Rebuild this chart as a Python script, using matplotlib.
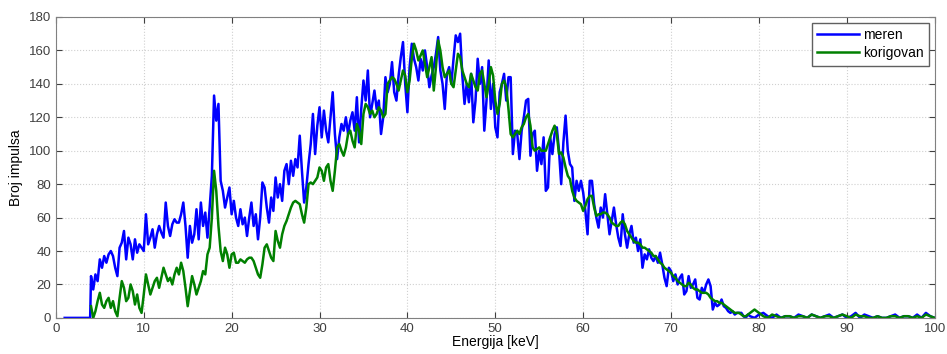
import matplotlib
matplotlib.use("Agg")
import matplotlib.pyplot as plt
import numpy as np

plt.rcParams['font.family'] = ['Liberation Sans', 'DejaVu Sans']

# energy grid: flat part, fine part (0.25 keV), tail (0.5 keV)
e_lead = [1.0, 3.9]
e_fine = np.arange(4, 79, 0.25)
e_tail = np.arange(79, 100.01, 0.5)

blue_lead = [0, 0]
blue_fine = [
    25, 17, 26, 22,  35, 30, 37, 33,  38, 40, 37, 30,  25, 42, 45, 52,
    35, 48, 44, 35,  47, 39, 44, 42,  40, 62, 44, 48,  53, 42, 50, 55,
    51, 48, 69, 55,  49, 56, 59, 57,  57, 62, 69, 55,  36, 55, 45, 50,
    65, 47, 69, 55,  63, 48, 66, 85,  133, 118, 128, 82,
    76, 66, 72, 78,  62, 70, 60, 55,  65, 56, 60, 49,  60, 69, 55, 62,
    47, 60, 81, 78,  66, 57, 72, 64,  84, 72, 80, 70,  88, 92, 80, 94,
    85, 95, 90, 109,  88, 69, 78, 92,  104, 122, 98, 115,
    126, 108, 124, 112,  105, 120, 135, 110,  95, 108, 116, 112,
    120, 110, 118, 123,  112, 132, 105, 125,  142, 130, 148, 120,
    128, 136, 125, 130,  110, 120, 144, 135,  140, 153, 135, 130,
    145, 156, 165, 140,  123, 150, 164, 155,  150, 142, 155, 148,
    160, 150, 138, 145,  150, 158, 168, 148,  140, 125, 146, 150,
    140, 155, 169, 165,  170, 145, 128, 140,  129, 146, 117, 130,
    155, 140, 150, 112,  130, 154, 125, 140,  114, 108, 135, 140,
    146, 130, 144, 144,  98, 112, 110, 95,  112, 120, 130, 131,
    97, 110, 112, 88,  100, 92, 108, 76,  78, 108, 98, 110,
    114, 100, 80, 105,  121, 100, 92, 90,  70, 82, 76, 82,
    75, 64, 50, 82,  82, 68, 60, 54,  66, 60, 74, 62,  50, 58, 66, 56,
    48, 43, 62, 50,  42, 50, 55, 45,  48, 40, 47, 30,  38, 35, 41, 36,
    34, 37, 33, 39,  32, 24, 19, 30,  28, 22, 26, 20,  24, 26, 14, 16,
    25, 18, 20, 23,  12, 11, 18, 15,  20, 23, 19, 5,  9, 7, 8, 11,
    7, 6, 4, 3,  4, 2, 3, 3,  3, 1, 0, 2,
]
blue_tail = [1, 0, 2, 3, 1, 0, 2, 0, 1, 1, 0, 2, 1, 0, 2, 1, 0, 1, 2, 0, 1, 2,
             0, 1, 3, 0, 2, 1, 0, 1, 0, 0, 1, 2, 0, 1, 1, 0, 2, 0, 3, 1, 0]

green_fine = [
    7, 0, 4, 10,  15, 8, 6, 10,  12, 6, 10, 4,  1, 12, 22, 18,
    10, 12, 20, 16,  8, 14, 6, 3,  14, 26, 20, 14,  18, 22, 24, 18,
    24, 30, 26, 22,  24, 20, 26, 30,  26, 33, 28, 18,  7, 16, 25, 20,
    14, 18, 22, 28,  26, 38, 42, 60,  88, 76, 55, 40,
    34, 42, 38, 30,  38, 39, 33, 33,  35, 34, 33, 35,  36, 36, 34, 30,
    26, 24, 32, 42,  44, 40, 36, 34,  52, 46, 42, 50,  55, 58, 62, 66,
    69, 70, 69, 68,  62, 57, 66, 80,  81, 80, 82, 84,  90, 88, 82, 90,
    92, 82, 76, 88,  102, 104, 100, 97,  102, 110, 112, 106,
    102, 116, 112, 104,  122, 128, 126, 122,  124, 120, 122, 126,
    124, 120, 122, 140,  142, 144, 143, 140,  136, 142, 148, 145,
    135, 142, 155, 164,  160, 154, 157, 160,  152, 144, 150, 156,
    136, 150, 166, 160,  150, 144, 146, 148,  140, 138, 148, 158,
    156, 148, 144, 140,  138, 146, 142, 138,  136, 146, 148, 140,
    132, 140, 150, 145,  130, 122, 128, 140,  142, 138, 125, 110,
    108, 110, 112, 110,  114, 116, 120, 122,  115, 102, 100, 101,
    102, 100, 100, 100,  104, 108, 112, 115,  110, 98, 99, 96,
    90, 85, 83, 76,  72, 70, 69, 68,  64, 67, 71, 73,  73, 66, 61, 62,
    62, 63, 63, 62,  60, 57, 56, 55,  55, 57, 58, 56,  52, 50, 48, 46,
    45, 45, 44, 42,  42, 41, 40, 39,  37, 37, 35, 33,  32, 30, 29, 28,
    27, 25, 24, 22,  21, 20, 19, 19,  21, 20, 18, 17,  17, 16, 15, 15,
    15, 14, 12, 11,  10, 10, 9, 9,  8, 7, 6, 5,  4, 3, 3, 3,  2, 1, 1, 2,
]
green_tail = [3, 5, 3, 1, 0, 2, 1, 0, 1, 1, 0, 1, 1, 0, 2, 1, 0, 1, 1, 0, 1, 2,
              1, 0, 2, 1, 1, 0, 0, 1, 0, 0, 1, 1, 0, 1, 1, 0, 1, 0, 2, 1, 0]

e_blue = np.concatenate([e_lead, e_fine, e_tail])
y_blue = np.array(blue_lead + blue_fine + blue_tail)
e_green = np.concatenate([e_fine, e_tail])
y_green = np.array(green_fine + green_tail)

fig = plt.figure(figsize=(9.47, 3.54), dpi=100)
ax = fig.add_axes([0.059, 0.102, 0.928, 0.850])

ax.plot(e_blue, y_blue, color='#0000ff', lw=1.8, label='meren')
ax.plot(e_green, y_green, color='#008000', lw=1.8, label='korigovan')

ax.set_xlim(0, 100)
ax.set_ylim(0, 180)
ax.set_xticks(np.arange(0, 101, 10))
ax.set_yticks(np.arange(0, 181, 20))
ax.grid(True, linestyle=':', color='#d0d0d0', lw=0.8)
ax.tick_params(direction='in', top=True, right=True, labelsize=9.5,
               colors='#404040', length=4)
for s in ax.spines.values():
    s.set_color('#808080')

ax.set_xlabel('Energija [keV]', fontsize=10, labelpad=0)
ax.set_ylabel('Broj impulsa', fontsize=10, labelpad=4)

leg = ax.legend(loc='upper right', fontsize=10, fancybox=False,
                framealpha=1, edgecolor='#606060', handlelength=3.0,
                borderaxespad=0.4, labelspacing=0.3, borderpad=0.4,
                handletextpad=0.3)

fig.savefig('out.png', dpi=100)
